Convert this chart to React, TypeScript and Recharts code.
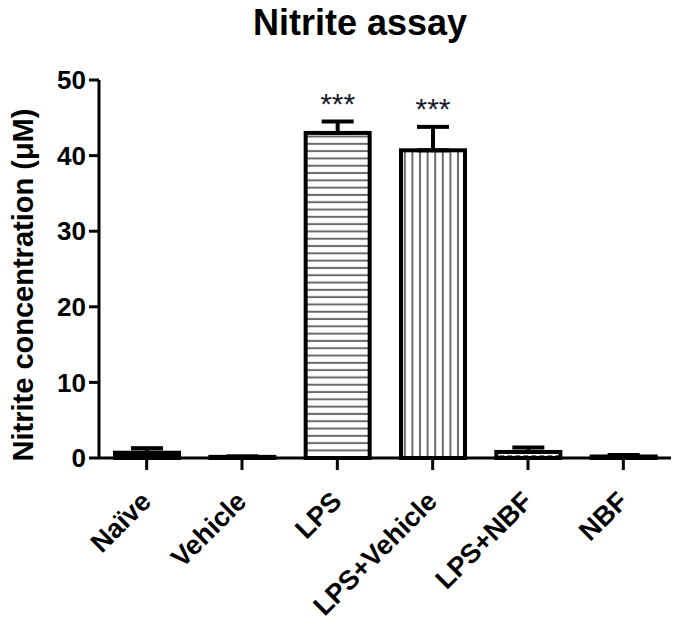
import React from "react";
import { Bar, BarChart, ErrorBar, Label, LabelList, XAxis, YAxis } from "recharts";

// groups and values (mean, upper SEM)
const groups = ["Naïve", "Vehicle", "LPS", "LPS+Vehicle", "LPS+NBF", "NBF"];
const means = [0.7, 0.15, 43.0, 40.7, 0.8, 0.2];
const sems = [0.6, 0.05, 1.5, 3.1, 0.6, 0.2];
const marks = ["", "", "***", "***", "", ""];
const yTicks = [0, 10, 20, 30, 40, 50];

const FONT = "'Liberation Sans', Arial, sans-serif";

// hatch used for each group
const hatchOf: Record<string, string> = {
  "Naïve": "solid",
  LPS: "hlines",
  "LPS+Vehicle": "vlines",
  "LPS+NBF": "dashes",
};

const data = groups.map((g, i) => ({
  group: g,
  mean: means[i],
  err: [0, sems[i]],
  mark: marks[i],
}));

function HatchedBar(props: any) {
  const { x, y, width, height, index, payload } = props;
  const kind = hatchOf[payload.group];
  const id = `hatch-${index}`;
  let pattern = null;
  let fill = "#fff";
  if (kind === "solid") {
    fill = "#000";
  } else if (kind === "hlines") {
    pattern = (
      <pattern id={id} patternUnits="userSpaceOnUse" x={x} y={y} width={8} height={7.3}>
        <rect width={8} height={7.3} fill="#fff" />
        <rect y={2.6} width={8} height={2} fill="#6a6a6a" />
      </pattern>
    );
  } else if (kind === "vlines") {
    pattern = (
      <pattern id={id} patternUnits="userSpaceOnUse" x={x} y={y} width={7.6} height={8}>
        <rect width={7.6} height={8} fill="#fff" />
        <rect x={2.8} width={2} height={8} fill="#6a6a6a" />
      </pattern>
    );
  } else if (kind === "dashes") {
    pattern = (
      <pattern id={id} patternUnits="userSpaceOnUse" x={x + 2} y={y + 1} width={8} height={7}>
        <rect width={8} height={7} fill="#fff" />
        <rect x={1} y={2} width={5} height={2.5} fill="#6a6a6a" />
      </pattern>
    );
  }
  return (
    <g>
      {pattern && <defs>{pattern}</defs>}
      <rect
        x={x}
        y={y}
        width={width}
        height={height}
        fill={pattern ? `url(#${id})` : fill}
        stroke="#000"
        strokeWidth={4}
      />
    </g>
  );
}

function GroupTick(props: any) {
  const { x, y, payload } = props;
  return (
    <text
      transform={`translate(${x + 6},${y + 31}) rotate(-45)`}
      textAnchor="end"
      fontFamily={FONT}
      fontWeight="bold"
      fontSize={27}
      fill="#000"
    >
      {payload.value}
    </text>
  );
}

function Stars(props: any) {
  const { x, y, width, height, index, value } = props;
  if (!value) return null;
  const pxPerUnit = height / means[index];
  const capY = y - sems[index] * pxPerUnit;
  return (
    <text
      x={x + width / 2}
      y={capY - 8}
      textAnchor="middle"
      fontFamily={FONT}
      fontSize={30}
      fill="#1a1a2a"
    >
      {value}
    </text>
  );
}

export default function App() {
  return (
    <div style={{ position: "absolute", left: 0, top: 0, width: 684, height: 631, background: "#fff" }}>
      <div
        style={{
          position: "absolute",
          left: 0,
          top: 2,
          width: 720,
          textAlign: "center",
          fontFamily: FONT,
          fontWeight: "bold",
          fontSize: 36,
          lineHeight: "42px",
          color: "#000",
        }}
      >
        Nitrite assay
      </div>
      <BarChart
        width={684}
        height={631}
        data={data}
        margin={{ top: 80, right: 13, bottom: 0, left: 0 }}
        barCategoryGap={0}
      >
        <XAxis
          dataKey="group"
          interval={0}
          height={173}
          axisLine={{ stroke: "#000", strokeWidth: 3 }}
          tickLine={{ stroke: "#000", strokeWidth: 3 }}
          tickSize={12}
          tick={<GroupTick />}
        />
        <YAxis
          domain={[0, 50]}
          ticks={yTicks}
          width={99}
          tickSize={10}
          tickMargin={3}
          axisLine={{ stroke: "#000", strokeWidth: 3 }}
          tickLine={{ stroke: "#000", strokeWidth: 3 }}
          tick={{ fill: "#000", fontSize: 26, fontWeight: "bold", fontFamily: FONT }}
        >
          <Label
            content={(p: any) => {
              const vb = p.viewBox;
              const cy = vb.y + vb.height / 2 + 16;
              return (
                <text
                  transform={`translate(33,${cy}) rotate(-90)`}
                  textAnchor="middle"
                  fontFamily={FONT}
                  fontWeight="bold"
                  fontSize={29}
                  fill="#000"
                >
                  Nitrite concentration (μM)
                </text>
              );
            }}
          />
        </YAxis>
        <Bar dataKey="mean" barSize={64} shape={<HatchedBar />} isAnimationActive={false}>
          <ErrorBar dataKey="err" width={16} strokeWidth={4} stroke="#000" direction="y" />
          <LabelList dataKey="mark" content={<Stars />} />
        </Bar>
      </BarChart>
    </div>
  );
}
